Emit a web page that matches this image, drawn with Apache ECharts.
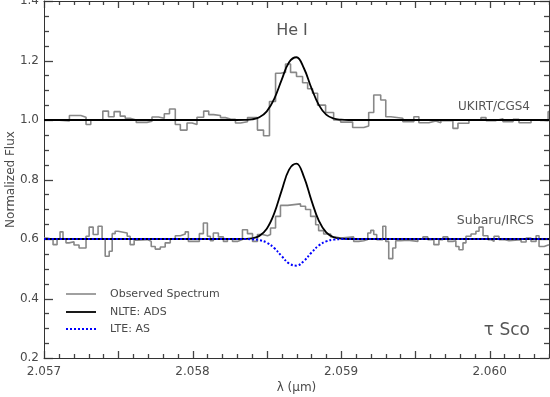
<!DOCTYPE html>
<html>
<head>
<meta charset="utf-8">
<script src="https://cdn.jsdelivr.net/npm/echarts@6/dist/echarts.min.js"></script>
<style>
  html, body { margin: 0; padding: 0; background: #fff; }
  #chart { width: 550px; height: 397px; }
</style>
</head>
<body>
<div id="chart"></div>
<script>
// axis ranges and tick labels
var xMin = 2.057, xMax = 2.0604;
var yMin = 0.2, yMax = 1.4;
var xTickLabels = ['2.057', '2.058', '2.059', '2.060'];

// UKIRT/CGS4 observed spectrum: bin edges (µm) and flux per bin
var ukirtEdges = [2.057000, 2.057059, 2.057171, 2.057248, 2.057283, 2.057315, 2.057396, 2.057434, 2.057472, 2.057513,
  2.057547, 2.057580, 2.057621, 2.057693, 2.057727, 2.057771, 2.057810, 2.057845, 2.057884, 2.057918,
  2.057963, 2.057997, 2.058030, 2.058075, 2.058109, 2.058142, 2.058188, 2.058221, 2.058255, 2.058289,
  2.058323, 2.058370, 2.058437, 2.058478, 2.058518, 2.058559, 2.058592, 2.058626, 2.058660, 2.058700,
  2.058741, 2.058775, 2.058808, 2.058842, 2.058896, 2.058950, 2.058997, 2.059078, 2.059153, 2.059186,
  2.059220, 2.059267, 2.059301, 2.059335, 2.059416, 2.059490, 2.059524, 2.059591, 2.059638, 2.059672,
  2.059753, 2.059787, 2.059861, 2.059942, 2.059976, 2.060043, 2.060090, 2.060158, 2.060198, 2.060279,
  2.060347, 2.060394, 2.0604];
var ukirtFlux = [1.001, 0.997, 1.015, 1.009, 0.985, 1.000, 1.030, 1.011, 1.028, 1.013,
  1.006, 1.000, 0.992, 0.996, 1.010, 1.006, 1.021, 1.037, 0.985, 0.966,
  0.990, 0.985, 1.009, 1.030, 1.018, 1.015, 1.008, 1.003, 1.002, 0.990,
  0.994, 1.008, 0.966, 0.947, 1.062, 1.157, 1.160, 1.188, 1.160, 1.146,
  1.125, 1.105, 1.090, 1.050, 1.025, 1.000, 0.993, 0.975, 0.980, 1.025,
  1.084, 1.067, 1.011, 1.006, 0.994, 1.011, 0.991, 0.997, 0.991, 0.998,
  0.972, 0.989, 1.000, 1.008, 0.998, 1.004, 0.994, 1.002, 0.991, 1.000,
  0.998, 1.028];

// Subaru/IRCS observed spectrum
var subaruEdges = [2.057000, 2.057020, 2.057061, 2.057088, 2.057108, 2.057128, 2.057148, 2.057169, 2.057202, 2.057236,
  2.057283, 2.057304, 2.057331, 2.057364, 2.057391, 2.057412, 2.057439, 2.057459, 2.057479, 2.057499,
  2.057560, 2.057580, 2.057607, 2.057628, 2.057695, 2.057722, 2.057749, 2.057783, 2.057816, 2.057850,
  2.057884, 2.057918, 2.057951, 2.057972, 2.058046, 2.058073, 2.058100, 2.058120, 2.058140, 2.058174,
  2.058208, 2.058235, 2.058269, 2.058302, 2.058336, 2.058370, 2.058404, 2.058437, 2.058471, 2.058505,
  2.058525, 2.058559, 2.058592, 2.058640, 2.058727, 2.058761, 2.058795, 2.058829, 2.058849, 2.058883,
  2.058930, 2.058964, 2.058997, 2.059085, 2.059119, 2.059153, 2.059180, 2.059200, 2.059220, 2.059240,
  2.059281, 2.059301, 2.059321, 2.059348, 2.059368, 2.059402, 2.059449, 2.059517, 2.059551, 2.059584,
  2.059625, 2.059659, 2.059686, 2.059719, 2.059753, 2.059773, 2.059794, 2.059821, 2.059841, 2.059875,
  2.059908, 2.059929, 2.059956, 2.059989, 2.060009, 2.060030, 2.060063, 2.060097, 2.060131, 2.060212,
  2.060246, 2.060279, 2.060313, 2.060333, 2.060367, 2.0604];
var subaruFlux = [0.603, 0.598, 0.581, 0.600, 0.624, 0.600, 0.587, 0.591, 0.580, 0.570,
  0.609, 0.640, 0.615, 0.643, 0.600, 0.542, 0.559, 0.618, 0.626, 0.620,
  0.609, 0.581, 0.596, 0.598, 0.592, 0.575, 0.566, 0.573, 0.587, 0.600,
  0.611, 0.617, 0.624, 0.592, 0.618, 0.654, 0.609, 0.594, 0.620, 0.607,
  0.592, 0.601, 0.592, 0.598, 0.631, 0.618, 0.592, 0.615, 0.611, 0.615,
  0.637, 0.676, 0.713, 0.718, 0.710, 0.699, 0.676, 0.648, 0.628, 0.617,
  0.607, 0.603, 0.607, 0.592, 0.594, 0.598, 0.620, 0.629, 0.615, 0.598,
  0.643, 0.592, 0.534, 0.570, 0.594, 0.596, 0.592, 0.600, 0.607, 0.598,
  0.581, 0.598, 0.607, 0.592, 0.594, 0.575, 0.564, 0.587, 0.609, 0.617,
  0.626, 0.640, 0.611, 0.598, 0.592, 0.609, 0.598, 0.594, 0.598, 0.590,
  0.603, 0.592, 0.611, 0.575, 0.581];

// model profiles
var modelLambda = [2.0570, 2.0583, 2.05835, 2.0584, 2.05845, 2.0585, 2.05855, 2.0586, 2.05865, 2.0587,
  2.05875, 2.0588, 2.05885, 2.0589, 2.05895, 2.0590, 2.05905, 2.0604];
var nlteUkirt = [1.000, 1.000, 1.0004, 1.002, 1.009, 1.029, 1.071, 1.135, 1.194, 1.211,
  1.174, 1.108, 1.051, 1.018, 1.005, 1.001, 1.000, 1.000];
var nlteSubaru = [0.600, 0.600, 0.6004, 0.6024, 0.6105, 0.6345, 0.686, 0.7627, 0.8333, 0.8535,
  0.8088, 0.7306, 0.6617, 0.6222, 0.606, 0.6013, 0.600, 0.600];
var lteSubaru = [0.600, 0.600, 0.5999, 0.5991, 0.5963, 0.5878, 0.5697, 0.5426, 0.5177, 0.5105,
  0.5263, 0.5539, 0.5782, 0.5922, 0.5979, 0.5996, 0.600, 0.600];

function stepPairs(edges, flux) {
  var out = [];
  for (var i = 0; i < flux.length; i++) out.push([edges[i], flux[i]]);
  out.push([edges[edges.length - 1], flux[flux.length - 1]]);
  return out;
}
function pairs(xs, ys) {
  return xs.map(function (x, i) { return [x, ys[i]]; });
}

var font = '"DejaVu Sans", sans-serif';
var textColor = '#4a4a4a';
var tickColor = '#444';

// tick marks: value + length, drawn on all four sides pointing inward
var xTicks = [], yTicks = [];
for (var i = 0; i <= 34; i++) {
  xTicks.push([+(xMin + i * 0.0001).toFixed(4), i % 5 === 0 ? 7 : 4]);
}
for (var j = 0; j <= 24; j++) {
  yTicks.push([+(yMin + j * 0.05).toFixed(2), j % 4 === 0 ? 9 : 5]);
}

function xAxisDef(pos) {
  return {
    type: 'value', min: xMin, max: xMax, interval: 0.001, position: pos,
    axisLine: { show: true, onZero: false, lineStyle: { color: '#333', width: 1 } },
    axisTick: { show: false },
    axisLabel: {
      show: pos === 'bottom', margin: 8, fontSize: 12, fontFamily: font, color: textColor,
      formatter: function (v) {
        var k = Math.round((v - xMin) * 1000);
        if (Math.abs((v - xMin) * 1000 - k) > 1e-6) return '';
        return xTickLabels[k] || '';
      }
    },
    splitLine: { show: false },
    name: pos === 'bottom' ? 'λ (μm)' : '',
    nameLocation: 'middle', nameGap: 24, nameMoveOverlap: false,
    nameTextStyle: { fontSize: 12, fontFamily: font, color: textColor }
  };
}
function yAxisDef(pos) {
  return {
    type: 'value', min: yMin, max: yMax, interval: 0.2, position: pos,
    axisLine: { show: true, onZero: false, lineStyle: { color: '#333', width: 1 } },
    axisTick: { show: false },
    axisLabel: {
      show: pos === 'left', margin: 5, fontSize: 12, fontFamily: font, color: textColor,
      formatter: function (v) { return v.toFixed(1); }
    },
    splitLine: { show: false },
    name: pos === 'left' ? 'Normalized Flux' : '',
    nameLocation: 'middle', nameGap: 27, nameMoveOverlap: false,
    nameTextStyle: { fontSize: 12, fontFamily: font, color: textColor }
  };
}

// legend drawn by hand: sample line + label per row
var legendRows = [
  { label: 'Observed Spectrum', color: '#888', width: 1.6, dash: null, y: 294 },
  { label: 'NLTE: ADS', color: '#000', width: 1.8, dash: null, y: 312 },
  { label: 'LTE: AS', color: '#0000ff', width: 2, dash: [2, 2], y: 329 }
];

var chart = echarts.init(document.getElementById('chart'));
chart.setOption({
  animation: false,
  backgroundColor: '#fff',
  grid: { left: 44, right: 1, top: 1, bottom: 39, containLabel: false, outerBoundsMode: 'none' },
  xAxis: [xAxisDef('bottom'), xAxisDef('top')],
  yAxis: [yAxisDef('left'), yAxisDef('right')],
  series: [
    {
      name: 'Observed Spectrum', type: 'line', step: 'end', symbol: 'none',
      data: stepPairs(ukirtEdges, ukirtFlux),
      lineStyle: { color: '#888', width: 1.6 }
    },
    {
      name: 'Observed Spectrum', type: 'line', step: 'end', symbol: 'none',
      data: stepPairs(subaruEdges, subaruFlux),
      lineStyle: { color: '#888', width: 1.6 }
    },
    {
      name: 'NLTE: ADS', type: 'line', smooth: 0.4, symbol: 'none',
      data: pairs(modelLambda, nlteUkirt),
      lineStyle: { color: '#000', width: 1.8 }
    },
    {
      name: 'NLTE: ADS', type: 'line', smooth: 0.4, symbol: 'none',
      data: pairs(modelLambda, nlteSubaru),
      lineStyle: { color: '#000', width: 1.8 }
    },
    {
      name: 'LTE: AS', type: 'line', smooth: 0.4, symbol: 'none',
      data: pairs(modelLambda, lteSubaru),
      lineStyle: { color: '#0000ff', width: 2, type: [2, 2] }
    }
  ]
});

// annotations, legend and tick marks (tick positions come from the chart's own scales)
var els = [
  { type: 'text', style: { text: 'He I', x: 292, y: 31, fill: '#555', font: '16px ' + font, align: 'center', verticalAlign: 'middle' } },
  { type: 'text', style: { text: 'UKIRT/CGS4', x: 530, y: 107, fill: '#555', font: '12px ' + font, align: 'right', verticalAlign: 'middle' } },
  { type: 'text', style: { text: 'Subaru/IRCS', x: 534, y: 221, fill: '#555', font: '12.5px ' + font, align: 'right', verticalAlign: 'middle' } },
  { type: 'text', style: { text: 'τ Sco', x: 530, y: 331, fill: '#555', font: '17px ' + font, align: 'right', verticalAlign: 'middle' } }
];
legendRows.forEach(function (r) {
  els.push({ type: 'line', shape: { x1: 66, y1: r.y, x2: 96, y2: r.y },
    style: { stroke: r.color, lineWidth: r.width, lineDash: r.dash } });
  els.push({ type: 'text', style: { text: r.label, x: 110, y: r.y, fill: textColor,
    font: '11px ' + font, align: 'left', verticalAlign: 'middle' } });
});
var finder = { xAxisIndex: 0, yAxisIndex: 0 };
var corner0 = chart.convertToPixel(finder, [xMin, yMin]);
var corner1 = chart.convertToPixel(finder, [xMax, yMax]);
xTicks.forEach(function (t) {
  var x = Math.round(chart.convertToPixel(finder, [t[0], yMin])[0]) + 0.5;
  els.push({ type: 'line', shape: { x1: x, y1: corner0[1], x2: x, y2: corner0[1] - t[1] },
    style: { stroke: tickColor, lineWidth: 1.3 } });
  els.push({ type: 'line', shape: { x1: x, y1: corner1[1], x2: x, y2: corner1[1] + t[1] },
    style: { stroke: tickColor, lineWidth: 1.3 } });
});
yTicks.forEach(function (t) {
  var y = Math.round(chart.convertToPixel(finder, [xMin, t[0]])[1]) + 0.5;
  els.push({ type: 'line', shape: { x1: corner0[0], y1: y, x2: corner0[0] + t[1], y2: y },
    style: { stroke: tickColor, lineWidth: 1.3 } });
  els.push({ type: 'line', shape: { x1: corner1[0], y1: y, x2: corner1[0] - t[1], y2: y },
    style: { stroke: tickColor, lineWidth: 1.3 } });
});
chart.setOption({ graphic: els });
</script>
</body>
</html>
